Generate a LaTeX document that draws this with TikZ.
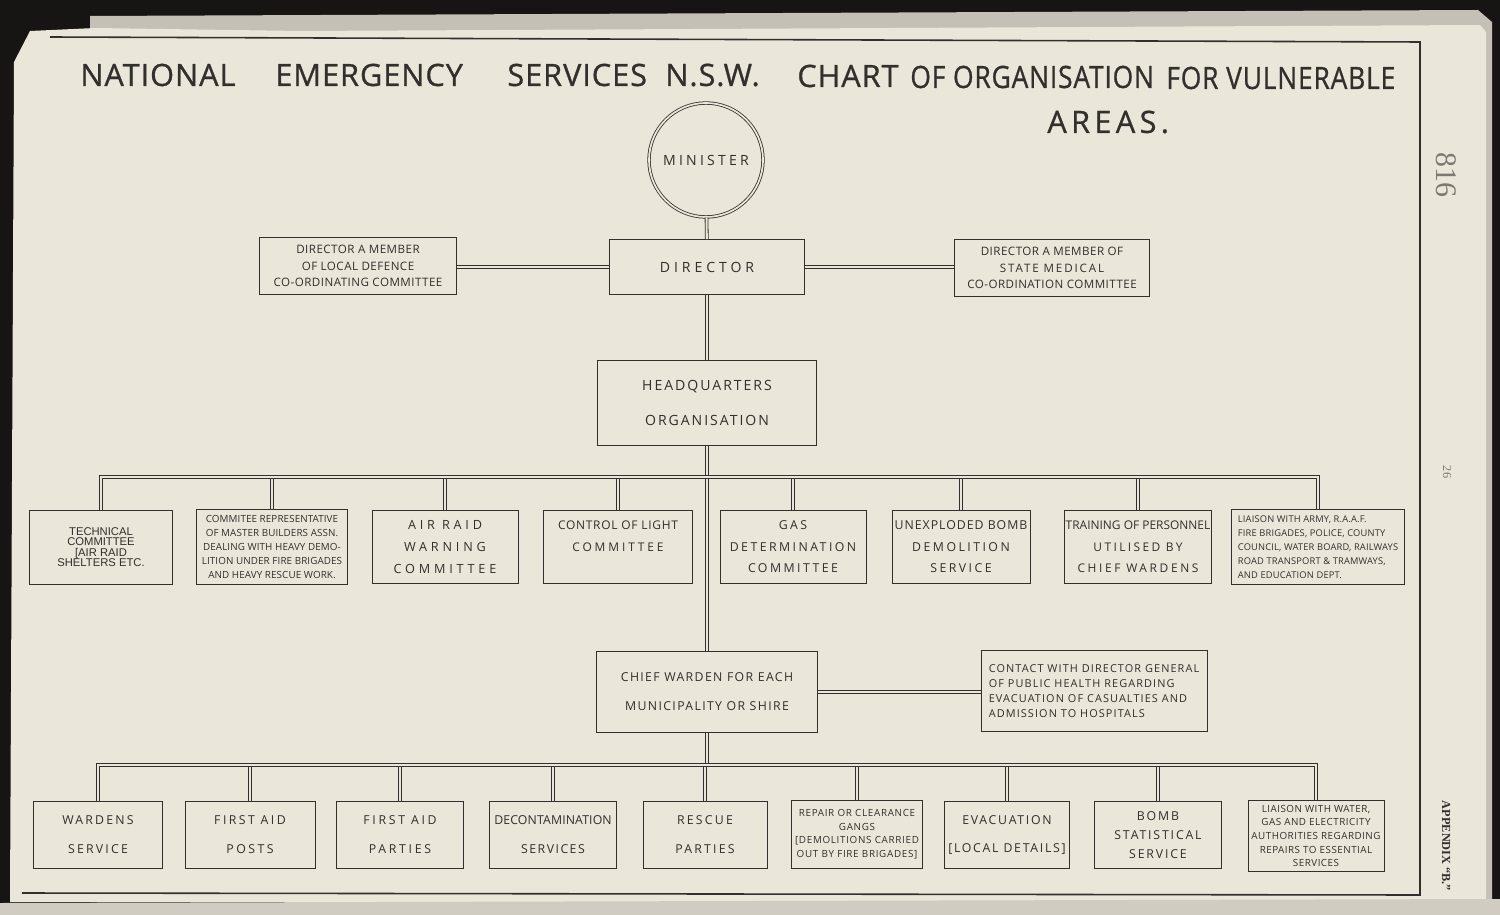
\documentclass[tikz,border=0pt]{standalone}
\usepackage{fontspec}
\usepackage{graphicx}
\usepackage{xcolor}
\setmainfont{Open Sans}
\newfontfamily\hand{Open Sans}
\newfontfamily\print{Liberation Sans}
\newfontfamily\book{Liberation Serif}
\usetikzlibrary{calc}

\definecolor{paper}{RGB}{234,230,217}
\definecolor{edge}{RGB}{196,192,182}
\definecolor{lowpage}{RGB}{208,204,194}
\definecolor{night}{RGB}{22,21,20}
\definecolor{ink}{RGB}{50,47,44}
\definecolor{faint}{RGB}{125,121,114}

\newcommand\lett[3]{\hand\fontsize{#1}{#2}\selectfont\addfontfeature{LetterSpace=#3}}
\newcommand\spaced[2]{{\addfontfeature{LetterSpace=#1}#2}}

\tikzset{
    unit/.style={draw=ink, line width=0.5pt, inner sep=0pt, align=center, text=ink},
    link/.style={draw=ink, line width=0.45pt, double=paper, double distance=1.2pt},
    title/.style={anchor=west, inner sep=0pt, text=ink, font={\lett{17.5}{20}{3}\addfontfeature{FakeBold=0.8}}},
}

\begin{document}
\begin{tikzpicture}[x=0.2mm, y=-0.2mm]
    \useasboundingbox (0,0) rectangle (1500,915);

    % 1. Page and frame
    \fill[night] (0,0) rectangle (1500,915);
    \fill[edge] (90,16) -- (1478,10) -- (1492,22) -- (1492,902) -- (90,902) -- cycle;
    \fill[paper] (10,902) -- (14,62) -- (30,31) -- (95,28) -- (300,31) -- (1480,25)
        -- (1486,32) -- (1486,902) -- cycle;
    \fill[lowpage] (0,903) -- (1500,899) -- (1500,915) -- (0,915) -- cycle;
    \draw[ink, line width=0.9pt] (50,37) -- (1420,42) -- (1420,895) -- (22,893);

    % 2. Title
    \node[title] (tnational) at (80,75) {NATIONAL};
    \node[title] (temergency) at (275,75) {EMERGENCY};
    \node[title] (tservices) at (507,75) {SERVICES};
    \node[title] (tnsw) at (665,75) {N.S.W.};
    \node[title] (tchart) at (797,76) {CHART};
    \node[title] (torg) at (910,77) {\scalebox{0.86}[1]{OF ORGANISATION}};
    \node[title] (tvuln) at (1166,78) {\scalebox{0.86}[1]{FOR VULNERABLE}};
    \node[title, font={\lett{17.5}{20}{14}\addfontfeature{FakeBold=0.8}}] (tareas) at (1047,122) {AREAS.};

    % 3. Margin of the book page
    \node[rotate=-90, text=faint, font=\book\fontsize{17}{17}\selectfont] (folio) at (1446,175) {816};
    \node[rotate=-90, text=faint, font=\book\fontsize{7}{7}\selectfont] (sheet) at (1447,472) {26};
    \node[rotate=-90, text=ink, font=\book\bfseries\fontsize{7}{7}\selectfont] (appx) at (1446,846) {APPENDIX “B.”};

    % 4. Top of the chart
    \node[circle, draw=ink, line width=0.45pt, double=paper, double distance=1pt,
        minimum size=22.8mm, inner sep=0pt, text=ink, font=\lett{8}{10}{23}] (minister) at (706,160) {MINISTER};
    \node[unit, minimum width=39mm, minimum height=11mm, font=\lett{8}{10}{28}] (director) at (707,267) {DIRECTOR};
    \node[unit, minimum width=39.4mm, minimum height=11.4mm, font=\lett{6.6}{9.4}{4}] (localdef) at (358,266)
        {DIRECTOR A MEMBER\\OF LOCAL DEFENCE\\CO-ORDINATING COMMITTEE};
    \node[unit, minimum width=39mm, minimum height=11.4mm, font=\lett{6.6}{9.4}{4}] (statemed) at (1052,268)
        {DIRECTOR A MEMBER OF\\\spaced{16}{STATE MEDICAL}\\CO-ORDINATION COMMITTEE};
    \node[unit, minimum width=43.8mm, minimum height=17mm, font=\lett{8}{20}{14}] (hq) at (707,403)
        {HEADQUARTERS\\ORGANISATION};

    % 5. Committees under headquarters
    \node[unit, minimum width=28.6mm, minimum height=14.8mm, font=\print\fontsize{6.4}{5.9}\selectfont] (tech) at (101,547)
        {TECHNICAL\\COMMITTEE\\{[}AIR RAID\\SHELTERS ETC.};
    \node[unit, minimum width=30.2mm, minimum height=15mm, font=\lett{5.6}{8}{1}] (builders) at (272,547)
        {COMMITEE REPRESENTATIVE\\OF MASTER BUILDERS ASSN.\\DEALING WITH HEAVY DEMO-\\LITION UNDER FIRE BRIGADES\\AND HEAVY RESCUE WORK.};
    \node[unit, minimum width=29.2mm, minimum height=14.6mm, font=\lett{7.2}{12.5}{30}] (airraid) at (445,547)
        {AIR RAID\\WARNING\\COMMITTEE};
    \node[unit, minimum width=29.8mm, minimum height=14.6mm, font=\lett{6.8}{12.5}{6}] (light) at (618,547)
        {CONTROL OF LIGHT\\\spaced{24}{COMMITTEE}\\\mbox{}};
    \node[unit, minimum width=29.2mm, minimum height=14.6mm, font=\lett{7}{12.2}{20}] (gas) at (793,547)
        {GAS\\DETERMINATION\\COMMITTEE};
    \node[unit, minimum width=27.6mm, minimum height=14.6mm, font=\lett{7}{12.2}{8}] (bomb) at (961,547)
        {UNEXPLODED BOMB\\\spaced{20}{DEMOLITION}\\\spaced{20}{SERVICE}};
    \node[unit, minimum width=29.4mm, minimum height=14.6mm, font=\lett{6.8}{12.2}{0}] (training) at (1138,547)
        {TRAINING OF PERSONNEL\\\spaced{20}{UTILISED BY}\\\spaced{22}{CHIEF WARDENS}};
    \node[unit, minimum width=34.6mm, minimum height=15mm, align=left, font=\lett{5.3}{8}{2}] (liaison) at (1318,547)
        {LIAISON WITH ARMY, R.A.A.F.\\FIRE BRIGADES, POLICE, COUNTY\\COUNCIL, WATER BOARD, RAILWAYS\\ROAD TRANSPORT \& TRAMWAYS,\\AND EDUCATION DEPT.};

    % 6. Chief warden
    \node[unit, minimum width=44.2mm, minimum height=16.2mm, font=\lett{7}{16.5}{11}] (chief) at (707,692)
        {CHIEF WARDEN FOR EACH\\MUNICIPALITY OR SHIRE};
    \node[unit, minimum width=45.2mm, minimum height=16.2mm, align=left, font=\lett{6.2}{8.4}{10}] (health) at (1094,691)
        {CONTACT WITH DIRECTOR GENERAL\\OF PUBLIC HEALTH REGARDING\\EVACUATION OF CASUALTIES AND\\ADMISSION TO HOSPITALS};

    % 7. Services under the chief warden
    \node[unit, minimum width=25.8mm, minimum height=13.4mm, font=\lett{7}{16.5}{18}] (wardens) at (98,835) {WARDENS\\SERVICE};
    \node[unit, minimum width=26mm, minimum height=13.4mm, font=\lett{7}{16.5}{20}] (aidposts) at (250,835) {FIRST AID\\POSTS};
    \node[unit, minimum width=25.4mm, minimum height=13.4mm, font=\lett{7}{16.5}{22}] (aidparties) at (400,835) {FIRST AID\\PARTIES};
    \node[unit, minimum width=25.4mm, minimum height=13.4mm, font=\lett{7}{16.5}{1}] (decon) at (553,835)
        {DECONTAMINATION\\\spaced{12}{SERVICES}};
    \node[unit, minimum width=24.8mm, minimum height=13.4mm, font=\lett{7}{16.5}{18}] (rescue) at (705,835) {RESCUE\\PARTIES};
    \node[unit, minimum width=26.2mm, minimum height=13.6mm, font=\lett{5.6}{7.7}{7}] (repair) at (857,834)
        {REPAIR OR CLEARANCE\\GANGS\\{[}DEMOLITIONS CARRIED\\OUT BY FIRE BRIGADES]};
    \node[unit, minimum width=25mm, minimum height=13.4mm, font=\lett{7}{16}{14}] (evac) at (1007,835)
        {EVACUATION\\{[}LOCAL DETAILS]};
    \node[unit, minimum width=25.4mm, minimum height=13.4mm, font=\lett{7}{11}{15}] (stats) at (1158,835)
        {BOMB\\STATISTICAL\\SERVICE};
    \node[unit, minimum width=27.2mm, minimum height=14.2mm, font=\lett{5.6}{7.7}{5}] (utility) at (1316,836)
        {LIAISON WITH WATER,\\GAS AND ELECTRICITY\\AUTHORITIES REGARDING\\REPAIRS TO ESSENTIAL\\SERVICES};

    % 8. Connectors
    \coordinate (upperbus) at (707,477);
    \coordinate (lowerbus) at (707,765);
    \draw[link] (minister) -- (director);
    \draw[link] (localdef.east |- director.west) -- (director.west);
    \draw[link] (director.east) -- (statemed.west |- director.east);
    \draw[link] (director) -- (hq);
    \draw[link] (hq) -- (chief);
    \draw[link] (chief.east) -- (health.west |- chief.east);
    \foreach \n in {builders, airraid, light, gas, bomb, training}
        \draw[link] (\n.north) -- (\n.north |- upperbus);
    \draw[link] (tech.north) -- (tech.north |- upperbus) -- (liaison.north |- upperbus) -- (liaison.north);
    \draw[link] (chief) -- (lowerbus);
    \foreach \n in {aidposts, aidparties, decon, rescue, repair, evac, stats}
        \draw[link] (\n.north) -- (\n.north |- lowerbus);
    \draw[link] (wardens.north) -- (wardens.north |- lowerbus) -- (utility.north |- lowerbus) -- (utility.north);
\end{tikzpicture}
\end{document}
